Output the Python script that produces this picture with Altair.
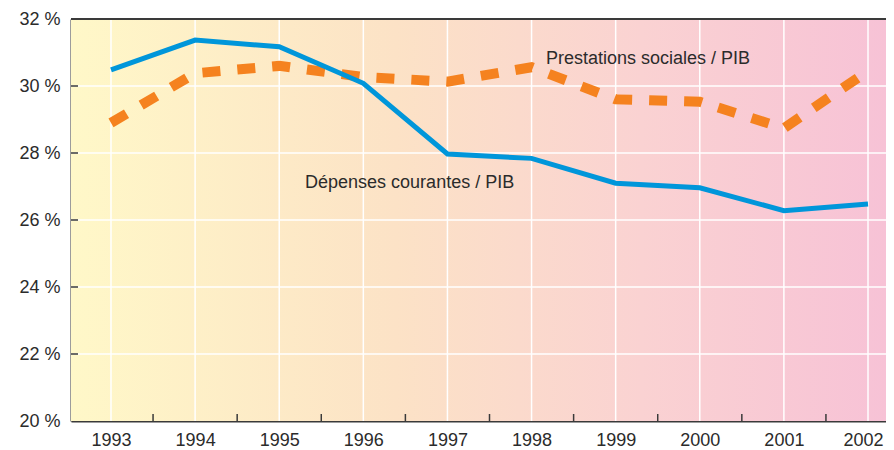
import altair as alt
import pandas as pd

# ---- data ----
years = [1993, 1994, 1995, 1996, 1997, 1998, 1999, 2000, 2001, 2002]
depenses = [30.48, 31.37, 31.17, 30.08, 27.97, 27.84, 27.10, 26.96, 26.28, 26.48]
prestations = [28.9, 30.38, 30.6, 30.27, 30.13, 30.56, 29.6, 29.53, 28.74, 30.45]
y_values = [20, 22, 24, 26, 28, 30, 32]
y_grid = [22, 24, 26, 28, 30]
x_minor_ticks = [1993.5, 1994.5, 1995.5, 1996.5, 1997.5, 1998.5, 1999.5, 2000.5, 2001.5]
label_text = ["Prestations sociales / PIB", "Dépenses courantes / PIB"]
label_x = [1998.172, 1995.307]
label_y = [30.65, 26.96]

W, H = 815, 402
FONT = "Liberation Sans"
DARK = "#3a3a3a"
TEXT = "#2b2b2b"

xscale = alt.Scale(domain=[1992.5244, 2002.214], nice=False, zero=False)
yscale = alt.Scale(domain=[20, 32], nice=False, zero=False)

df = pd.DataFrame({"year": years, "dep": depenses, "pre": prestations})
df_ygrid = pd.DataFrame({"v": y_grid})
df_xtick = pd.DataFrame({"t": x_minor_ticks})
df_lab = pd.DataFrame({"txt": label_text, "x": label_x, "y": label_y})
df_one = pd.DataFrame({"k": [0]})

x_axis = alt.Axis(values=years, format="d", ticks=False, grid=False,
                  domain=True, domainColor=DARK, domainWidth=2,
                  labelFont=FONT, labelFontSize=18, labelColor=TEXT,
                  labelPadding=10, labelFlush=20, labelFlushOffset=15,
                  title=None)
y_axis = alt.Axis(values=y_values, labelExpr="datum.value + ' %'", ticks=False,
                  grid=False, domain=True, domainColor=DARK, domainWidth=2,
                  labelFont=FONT, labelFontSize=18, labelColor=TEXT,
                  labelPadding=11, title=None)

bg = alt.LinearGradient(
    gradient="linear", x1=0, y1=0, x2=1, y2=0,
    stops=[alt.GradientStop(color="#FFF8C8", offset=0),
           alt.GradientStop(color="#FCE2C6", offset=0.4),
           alt.GradientStop(color="#FAD2D2", offset=0.7),
           alt.GradientStop(color="#F7C2D6", offset=1)]
)

background = alt.Chart(df_one).mark_rect(fill=bg, stroke=None).encode(
    x=alt.value(0), x2=alt.value(W), y=alt.value(0), y2=alt.value(H)
)
vgrid = alt.Chart(df).mark_rule(color="white", strokeWidth=1.5).encode(
    x=alt.X("year:Q", scale=xscale, axis=x_axis, title=None)
)
hgrid = alt.Chart(df_ygrid).mark_rule(color="white", strokeWidth=1.5).encode(
    y=alt.Y("v:Q", scale=yscale, axis=y_axis, title=None)
)
top_border = alt.Chart(df_one).mark_rule(color=DARK, strokeWidth=2).encode(
    y=alt.datum(32, scale=yscale),
    x=alt.value(0), x2=alt.value(W)
)
xticks = alt.Chart(df_xtick).mark_rule(color=DARK, strokeWidth=1.5).encode(
    x=alt.X("t:Q", scale=xscale, title=None),
    y=alt.value(H), y2=alt.value(H - 7)
)
yticks = alt.Chart(df_ygrid).mark_rule(color=DARK, strokeWidth=1.5).encode(
    y=alt.Y("v:Q", scale=yscale, title=None),
    x=alt.value(0), x2=alt.value(7)
)
pre_line = alt.Chart(df).mark_line(color="#F5821F", strokeWidth=10,
                                   strokeDash=[18, 17], strokeCap="butt").encode(
    x=alt.X("year:Q", scale=xscale, title=None),
    y=alt.Y("pre:Q", scale=yscale, title=None)
)
dep_line = alt.Chart(df).mark_line(color="#0096DA", strokeWidth=5).encode(
    x=alt.X("year:Q", scale=xscale, title=None),
    y=alt.Y("dep:Q", scale=yscale, title=None)
)
labels = alt.Chart(df_lab).mark_text(align="left", baseline="alphabetic",
                                     font=FONT, fontSize=18, color=TEXT).encode(
    x=alt.X("x:Q", scale=xscale, title=None),
    y=alt.Y("y:Q", scale=yscale, title=None),
    text="txt:N"
)

chart = alt.layer(background, vgrid, hgrid, xticks, yticks, top_border,
                  pre_line, dep_line, labels).properties(
    width=W, height=H,
    padding={"left": 63, "top": 11, "right": 0, "bottom": 31},
    autosize="none",
    background="white",
).configure_view(stroke=None)

chart.save("out.html", embed_options={"renderer": "svg", "actions": False})
